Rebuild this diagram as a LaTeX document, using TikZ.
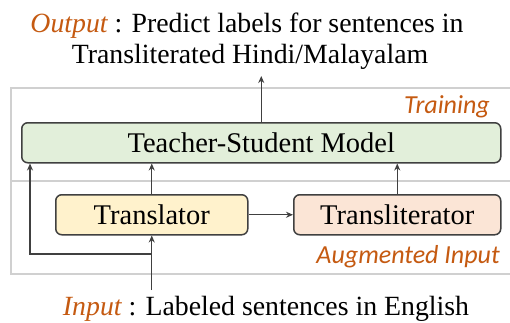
\documentclass[tikz,border=0pt]{standalone}
\usepackage{fontspec}
\setmainfont{Liberation Serif}
\newfontfamily\labfont{Carlito}
\usetikzlibrary{arrows.meta,calc}
\definecolor{orng}{HTML}{C55A11}
\definecolor{dgray}{HTML}{404040}
\definecolor{fgray}{HTML}{D0D0D0}
\definecolor{gfill}{HTML}{E2EFDA}
\definecolor{yfill}{HTML}{FFF2CC}
\definecolor{pfill}{HTML}{FBE5D6}
\tikzset{
  frame/.style={draw=fgray, line width=1.5pt, inner sep=0pt, anchor=north west},
  box/.style={draw=dgray, line width=1.5pt, rounded corners=6pt, inner sep=0pt, anchor=north west},
  boxtext/.style={font=\fontsize{28.5}{30}\selectfont},
  txt/.style={font=\fontsize{27.8}{30}\selectfont, anchor=base, inner sep=0pt},
  lab/.style={font=\labfont\itshape\fontsize{26}{30}\selectfont, text=orng, anchor=base east, inner sep=0pt},
  arr/.style={draw=dgray, line width=1.4pt, -{Stealth[length=7pt,width=6pt]}}
}
\begin{document}
\begin{tikzpicture}[x=1pt,y=-1pt]
\useasboundingbox (0,0) rectangle (510,322);
\fill[white] (0,0) rectangle (510,322);
% frames
\node[frame, minimum width=505pt, minimum height=93pt] (trainframe) at (10,87) {};
\node[frame, minimum width=505pt, minimum height=93pt] (augframe) at (10,180) {};
% boxes
\node[box, fill=gfill, minimum width=479pt, minimum height=40pt] (ts) at (21,122) {};
\node[boxtext] at (ts.center) {Teacher-Student Model};
\node[box, fill=yfill, minimum width=192pt, minimum height=40pt] (tr) at (55,194) {};
\node[boxtext] at (tr.center) {Translator};
\node[box, fill=pfill, minimum width=207pt, minimum height=40pt] (tl) at (293,194) {};
\node[boxtext] at (tl.center) {Transliterator};
% labels
\node[lab] (trainlab) at (490,113) {Training};
\node[lab] (auglab) at (500,263) {Augmented Input};
% texts
\node[txt] (out1) at (247,32) {{\color{orng}\itshape Output} : Predict labels for sentences in};
\node[txt] (out2) at (250,63) {Transliterated Hindi/Malayalam};
\node[txt] (inp) at (266,315) {{\color{orng}\itshape Input} : Labeled sentences in English};
% connectors
\coordinate (outtip) at (ts.north |- 0,76);
\draw[arr] (ts.north) -- (outtip);
\draw[arr] (tr.north) -- (tr.north |- ts.south);
\draw[arr] (tl.north) -- (tl.north |- ts.south);
\draw[arr] (tr.east) -- (tl.west);
\coordinate (inpstart) at (tr.south |- 0,290);
\draw[arr] (inpstart) -- (tr.south);
\coordinate (branch) at (tr.south |- 0,254);
\coordinate (leftin) at ([xshift=9pt]ts.south west);
\draw[arr] (branch) -| (leftin);
\end{tikzpicture}
\end{document}
